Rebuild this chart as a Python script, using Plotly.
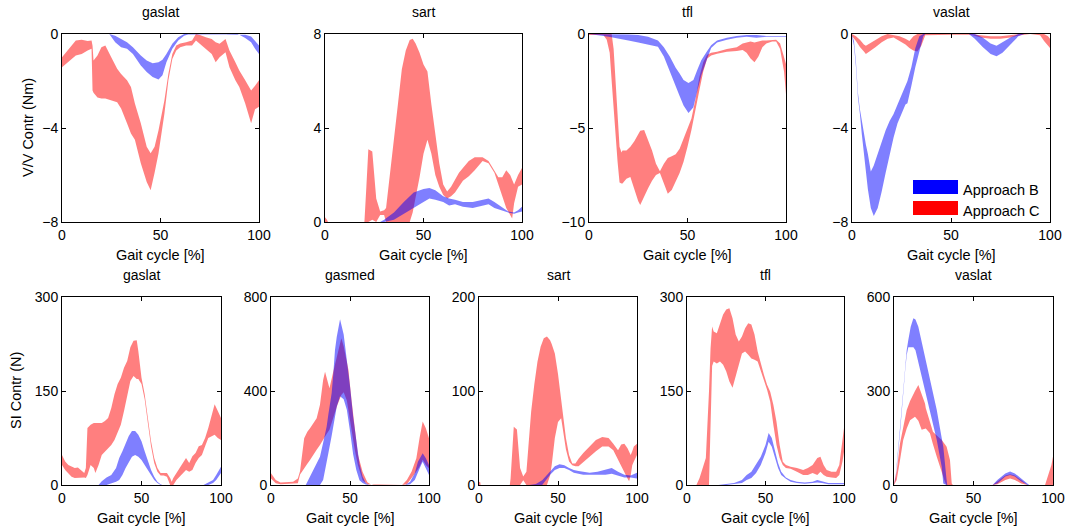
import plotly.graph_objects as go

# ---------------- data (gait cycle %, lower / upper band limits) ----------------
# Top row: V/V Contr (Nm)
VV_GASLAT_C_X = [0,3,7,10,13,15,15.5,16,18,20,22,25,28,30,33,35,37,40,43,45,47,49,50,52,54,56,58,60,63,66,68,70,73,76,78,80,83,85,88,90,93,95,96,98,100]
VV_GASLAT_C_HI = [-0.99,-0.7,-0.28,-0.25,-0.3,-0.28,-0.5,-1.13,-0.92,-0.56,-0.49,-0.99,-1.48,-1.7,-1.97,-2.26,-2.96,-3.8,-4.8,-5.07,-4.8,-4.1,-3.67,-2.82,-1.69,-0.85,-0.49,-0.4,-0.35,-0.28,0,-0.04,-0.14,-0.21,-0.35,-0.42,-0.21,-0.7,-1.2,-1.55,-1.97,-2.26,-2.4,-2.2,-1.97]
VV_GASLAT_C_LO = [-1.41,-1.2,-0.92,-0.85,-0.7,-0.63,-2.4,-2.5,-2.7,-2.75,-2.75,-2.82,-2.9,-3.17,-3.8,-4.23,-4.5,-5.5,-6.3,-6.65,-5.9,-5.07,-4.5,-3.38,-1.97,-1.06,-0.7,-0.56,-0.49,-0.49,-0.28,-0.42,-0.63,-0.85,-1.2,-0.99,-0.78,-1.41,-1.97,-2.26,-2.96,-3.5,-3.8,-3.2,-3.1]
VV_GASLAT_B_X = [24,27,30,33,36,40,43,46,49,51,53,56,59,62,64,89,90,93,96,98,100]
VV_GASLAT_B_HI = [0,-0.07,-0.21,-0.35,-0.56,-0.92,-1.13,-1.24,-1.2,-1.1,-0.85,-0.42,-0.14,0,0,0,0,-0.03,-0.11,-0.28,-0.49]
VV_GASLAT_B_LO = [0,-0.35,-0.56,-0.63,-0.85,-1.34,-1.62,-1.83,-1.94,-1.76,-1.2,-0.63,-0.28,-0.07,-0.02,0,-0.03,-0.17,-0.35,-0.63,-0.85]

VV_SART_C_X = [0,1,1.5,20,21,22,24,26,28,30,31,33,35,37,39,41,43,44.5,46,48,50,52,54,56,58,60,62,64,66,68,70,73,76,80,83,86,88,90,92,94,95,96,98,100]
VV_SART_C_HI = [0.2,0.1,0,0,1.5,3.1,3.0,1.0,0.45,0.5,0.6,2.0,3.5,5.0,6.5,7.3,7.75,7.8,7.6,7.2,6.7,6.4,5.0,3.7,2.5,1.6,1.3,1.5,1.8,2.1,2.3,2.6,2.75,2.75,2.6,2.2,1.9,1.9,2.2,2.0,1.8,1.6,2.0,2.3]
VV_SART_C_LO = [0,0,0,0,0,0,0.1,0,0.3,0.3,0,0,0,0,0,0,0,0.4,1.0,1.9,2.9,3.5,2.9,2.0,1.5,1.15,1.0,1.1,1.25,1.5,1.75,1.95,2.2,2.6,2.5,2.1,1.6,1.1,0.6,0.3,0.15,0.8,1.5,1.6]
VV_SART_B_X = [28,30,35,40,45,50,53,56,60,63,66,70,75,80,83,86,90,93,96,98,100]
VV_SART_B_HI = [0,0.1,0.4,0.85,1.25,1.4,1.45,1.35,1.1,1.0,0.95,0.85,0.85,0.95,1.0,0.85,0.6,0.45,0.4,0.5,0.65]
VV_SART_B_LO = [0,0,0.1,0.35,0.6,0.85,1.0,0.95,0.85,0.7,0.75,0.65,0.6,0.7,0.75,0.6,0.5,0.4,0.35,0.4,0.45]

VV_TFL_C_X = [0,5,7.3,9,10.5,11.5,12.5,13.5,14.5,15.5,16.5,17,19,21,23,25,26,28,30,32,34,36,38,40,42,44,46,48,50,52,54,56,58,60,62,65,70,75,78,80,82,84,86,88,90,93,95,97,99,100]
VV_TFL_C_HI = [0,0,0,0,0,0,-0.8,-2.5,-4.5,-6.0,-6.3,-6.2,-6.2,-6.0,-5.7,-5.3,-5.15,-5.1,-5.6,-6.2,-6.9,-7.3,-6.9,-6.6,-6.5,-6.4,-6.1,-5.6,-5.0,-4.5,-3.5,-2.3,-1.5,-1.1,-1.0,-0.95,-0.8,-0.7,-0.5,-0.45,-0.4,-0.45,-0.4,-0.35,-0.35,-0.3,-0.3,-0.5,-1.2,-1.6]
VV_TFL_C_LO = [-0.05,-0.05,-0.05,-0.3,-1.0,-2.5,-4.0,-5.5,-6.8,-7.9,-7.95,-7.95,-7.7,-7.6,-8.2,-8.9,-9.1,-8.7,-8.2,-7.8,-7.5,-7.4,-7.9,-8.5,-8.3,-7.9,-7.4,-6.8,-6.0,-5.1,-4.1,-3.0,-2.0,-1.3,-1.15,-1.05,-0.95,-0.9,-0.85,-1.0,-1.3,-1.5,-1.2,-0.7,-0.5,-0.4,-0.4,-0.8,-2.0,-3.2]
VV_TFL_B_X = [0,10,15,20,25,30,35,38,41,44,46,48,50.5,53,55,57,60,62,65,70,75,80,85,90,95,100]
VV_TFL_B_HI = [0,0,-0.02,-0.03,-0.05,-0.15,-0.35,-0.7,-1.2,-1.8,-2.1,-2.45,-2.6,-2.45,-1.9,-1.4,-0.9,-0.6,-0.35,-0.2,-0.1,-0.05,-0.05,-0.1,-0.1,-0.1]
VV_TFL_B_LO = [0,-0.15,-0.25,-0.35,-0.45,-0.55,-0.68,-1.2,-2.0,-2.8,-3.3,-3.8,-4.2,-3.9,-3.0,-2.2,-1.3,-0.75,-0.45,-0.3,-0.2,-0.15,-0.2,-0.15,-0.15,-0.15]

VV_VASLAT_C_X = [0,2,4,6,7,9,12,15,18,21,24,27,29,31,33,35,37,40,50,60,65,70,75,80,85,90,95,97,99,100]
VV_VASLAT_C_HI = [0,-0.1,-0.25,-0.45,-0.5,-0.4,-0.25,-0.1,0,-0.05,-0.1,-0.2,-0.3,-0.1,0,0,0,0,0,0,-0.05,-0.1,-0.1,-0.05,0,0,0,0,-0.1,-0.2]
VV_VASLAT_C_LO = [-0.1,-0.3,-0.55,-0.75,-0.85,-0.75,-0.55,-0.35,-0.2,-0.15,-0.3,-0.45,-0.6,-0.7,-0.75,-0.5,-0.05,-0.03,-0.03,-0.03,-0.15,-0.2,-0.2,-0.15,-0.05,0,-0.05,-0.3,-0.5,-0.6]
VV_VASLAT_B_X = [0,1,2,3,4,5,6,7,8,9.5,11,13,15,17,19,21,23,25,27,28,30,32,34,36,37,59,62,66,70,73,76,80,84,87,100]
VV_VASLAT_B_HI = [-0.05,-0.3,-1.2,-2.5,-3.2,-3.75,-4.2,-4.7,-5.1,-5.85,-5.6,-5.1,-4.6,-4.1,-3.7,-3.4,-3.0,-2.6,-2.2,-2.0,-1.4,-0.6,-0.1,0,0,0,0,-0.15,-0.4,-0.5,-0.35,-0.15,0,0,0]
VV_VASLAT_B_LO = [-0.1,-0.5,-1.4,-2.7,-3.4,-4.3,-5.1,-5.9,-6.6,-7.4,-7.75,-7.4,-6.7,-5.9,-5.1,-4.4,-3.8,-3.4,-3.0,-2.95,-2.2,-1.4,-0.7,-0.1,0,0,-0.2,-0.55,-0.85,-0.95,-0.8,-0.45,-0.1,0,0]

# Bottom row: SI Contr (N)
SI_GASLAT_C_X = [0,2,4,6,8,10,12,14,15,15.5,16,18,20,21,23,25,27,29,31,33,35,37,39,41,43,45,47,48,50,52,54,56,58,60,62,64,66,68,69,70,72,74,76,78,80,82,84,86,88,90,92,94,96,98,100]
SI_GASLAT_C_HI = [48,37.5,32,29,27,28,24,19,27,60,91,96,99,99,99,99,102,107,123,145,161,171,187,198,220,230,231,214,171,145,107,70,43,27,19,19,19,11,5,11,19,27,35,43,35,46,51,62,64,75,91,110,129,118,107]
SI_GASLAT_C_LO = [32,24,19,13,11,11,12,12,11,13,16,32,27,19,32,48,54,59,64,72,83,96,118,139,166,174,169,169,161,137,99,62,35,21,15,15,13,0,0,0,8,13,19,24,21,24,35,43,48,62,75,78,80,75,72]
SI_GASLAT_B_X = [23,25,28,31,34,36,38,40,42,44,46,48,50,52,54,56,58,60,62,63,89,92,95,97,100]
SI_GASLAT_B_HI = [0,6,12,16,27,43,54,67,78,86,86,80,70,54,37,24,13,5,1,0,0,4,8,16,29]
SI_GASLAT_B_LO = [0,0,0,3,5,8,16,27,37,45,48,45,40,32,24,16,8,3,0,0,0,0,3,8,19]

SI_GASMED_C_X = [0,3,6,10,14,17,18.4,21,23,24.7,27,28.9,31,33,34.2,35,37,39,42,44.5,46,48,49,51,53,55,58,61,63,65,83,86,89,92,94,96,98,100]
SI_GASMED_C_HI = [50,21,11,11,14,28,60,199,227,241,263,284,341,447,482,462,412,470,560,625,590,530,490,360,230,130,55,12,3,0,0,21,57,114,199,270,241,199]
SI_GASMED_C_LO = [28,7,3,3,6,7,45,70,90,106,128,150,170,190,205,215,235,275,340,383,395,360,320,235,150,85,20,3,0,0,0,3,28,57,78,107,85,71]
SI_GASMED_B_X = [22,22.6,24,26.8,31,33,35.2,36.3,38.4,39.4,40.5,41.6,43.7,46,48,50,52,54,56,58,60,62,85,88,91,93,95,96,98,100]
SI_GASMED_B_HI = [0,8,30,64,120,180,248,300,391,470,574,630,705,640,540,420,290,180,90,35,8,0,0,14,50,99,128,135,114,85]
SI_GASMED_B_LO = [0,0,0,0,0,21,100,135,210,248,285,333,378,365,320,230,130,64,20,8,2,0,0,3,21,50,85,99,71,43]

SI_SART_C_X = [0,0.8,1,19.5,20,21,22,24,26,28,30,31,33,35,37,39,41,43,45,46,48,50,52,53,55,57,59,61,63,66,70,74,78,82,85,88,90,92,94,95,96,97,98,100]
SI_SART_C_HI = [3.5,3,0,0,7,35,62,59,18,9,14,35,78,107,131,147,156,158,154,150,140,118,89,75,50,32,23,23,28,34,41,48,51,50,44,37,43,44,39,35,32,36,41,44]
SI_SART_C_LO = [0,0,0,0,0,0,0,0,0,5,0,0,0,0,0,0,0,0,10,21,50,67,71,60,38,25,21,20,20,25,30,36,41,41,37,28,21,14,7,4,10,21,25,32]
SI_SART_B_X = [32,36,40,42,45,48,51,54,57,60,63,66,70,75,80,84,88,92,96,100]
SI_SART_B_HI = [0,1,5,9,14,20,22,21,18,16,15,14,13,14,16,18,14,11,10,13]
SI_SART_B_LO = [0,0,0,4,11,16,18,18,16,13,12,11,11,11,11,12,10,8,8,7]

SI_TFL_C_X = [0,6,8,10,12,14,14.5,15,16,17,19,21,23,25,27,29,31,33,35,37,39,41,43,45,47,49,51,53,55,57,59,61,63,66,70,74,77,80,83,85,87,89,92,95,97,99,100]
SI_TFL_C_HI = [0,0,11,27,43,149,185,218,253,245,242,258,272,280,282,266,240,229,237,250,258,256,240,213,192,176,160,149,128,101,64,37,32,29,27,24,27,32,43,45,32,24,21,21,32,69,91]
SI_TFL_C_LO = [0,0,0,0,0,0,20,85,190,197,194,197,192,181,165,155,176,192,210,213,208,202,200,197,181,168,152,133,96,64,43,32,27,26,21,16,16,19,16,21,16,13,12,11,16,37,53]
SI_TFL_B_X = [20,25,30,35,38,41,44,47,50,52,54,56,58,60,63,66,70,75,80,83,86,90,95,100]
SI_TFL_B_HI = [0,1,3,8,16,21,32,45,64,83,75,53,35,21,12,8,5,4,5,8,6,3,3,3]
SI_TFL_B_LO = [0,0,1,3,8,11,19,32,51,69,61,43,27,16,10,5,3,2,3,4,3,1,1,1]

SI_VASLAT_C_X = [0,1.7,3.8,5.8,8,10.1,12.2,13.2,15.3,17.4,18.4,19.5,20,22.6,24.5,26.9,28,30,32,33,33.1,35.2,36.3,37,62,65,70,73,76,80,84,95,97,99,100]
SI_VASLAT_C_HI = [5,45,133,185,239,268,293,300,319,290,282,260,245,197,170,158,154,144,130,125,122,80,5,0,0,11,30,34,30,16,0,0,32,64,91]
SI_VASLAT_C_LO = [0,16,80,144,180,207,215,218,205,176,178,180,180,165,130,90,75,40,10,0,0,0,0,0,0,2,16,21,16,5,0,0,0,0,0]
SI_VASLAT_B_X = [0,1,4,7,8,9,10.5,12.2,13.5,15.3,18.4,22.6,26.9,30,31,33,33.5,62,65,70,73,76,80,84,85,100]
SI_VASLAT_B_HI = [0,25,195,380,431,463,505,532,528,505,431,335,239,150,122,20,0,0,16,37,43,37,21,5,0,0]
SI_VASLAT_B_LO = [0,18,180,365,415,440,441,440,430,395,325,239,144,58,5,0,0,0,5,27,32,27,11,0,0,0]

TITLES_TOP = ["gaslat", "sart", "tfl", "vaslat"]
TITLES_BOT = ["gaslat", "gasmed", "sart", "tfl", "vaslat"]
YTICKS_TOP = [[-8, -4, 0], [0, 4, 8], [-10, -5, 0], [-8, -4, 0]]
YTICKS_BOT = [[0, 150, 300], [0, 400, 800], [0, 100, 200], [0, 150, 300], [0, 300, 600]]
XTICKS = [0, 50, 100]
LEGEND_LABELS = ["Approach B", "Approach C"]

# ---------------- layout geometry (screen pixels) ----------------
W, H = 1065, 528
TOP_X = [(62, 259), (325, 522), (589, 786), (852, 1050)]
BOT_X = [(62, 221), (271, 429), (479, 637), (687, 844), (894, 1053)]
TOP_Y = (34, 222)
BOT_Y = (297, 485)

RED = "rgba(255,0,0,0.5)"
BLUE = "rgba(0,0,255,0.5)"
FONT = "Liberation Sans, Arial, sans-serif"


def fx(p):
    return p / W


def fy(p):
    return 1 - p / H


panels = [
    ("V", 0, VV_GASLAT_C_X, VV_GASLAT_C_LO, VV_GASLAT_C_HI, VV_GASLAT_B_X, VV_GASLAT_B_LO, VV_GASLAT_B_HI),
    ("V", 1, VV_SART_C_X, VV_SART_C_LO, VV_SART_C_HI, VV_SART_B_X, VV_SART_B_LO, VV_SART_B_HI),
    ("V", 2, VV_TFL_C_X, VV_TFL_C_LO, VV_TFL_C_HI, VV_TFL_B_X, VV_TFL_B_LO, VV_TFL_B_HI),
    ("V", 3, VV_VASLAT_C_X, VV_VASLAT_C_LO, VV_VASLAT_C_HI, VV_VASLAT_B_X, VV_VASLAT_B_LO, VV_VASLAT_B_HI),
    ("S", 0, SI_GASLAT_C_X, SI_GASLAT_C_LO, SI_GASLAT_C_HI, SI_GASLAT_B_X, SI_GASLAT_B_LO, SI_GASLAT_B_HI),
    ("S", 1, SI_GASMED_C_X, SI_GASMED_C_LO, SI_GASMED_C_HI, SI_GASMED_B_X, SI_GASMED_B_LO, SI_GASMED_B_HI),
    ("S", 2, SI_SART_C_X, SI_SART_C_LO, SI_SART_C_HI, SI_SART_B_X, SI_SART_B_LO, SI_SART_B_HI),
    ("S", 3, SI_TFL_C_X, SI_TFL_C_LO, SI_TFL_C_HI, SI_TFL_B_X, SI_TFL_B_LO, SI_TFL_B_HI),
    ("S", 4, SI_VASLAT_C_X, SI_VASLAT_C_LO, SI_VASLAT_C_HI, SI_VASLAT_B_X, SI_VASLAT_B_LO, SI_VASLAT_B_HI),
]

fig = go.Figure()
layout = dict(width=W, height=H, autosize=False, margin=dict(l=0, r=0, t=0, b=0, pad=0),
              paper_bgcolor="white", plot_bgcolor="white", showlegend=False,
              font=dict(family=FONT, size=14, color="black"))
annotations = []
shapes = []


def band(xs, lo, hi):
    return list(xs) + list(xs)[::-1], list(hi) + list(lo)[::-1]


for i, (row, col, cx, clo, chi, bx, blo, bhi) in enumerate(panels):
    n = i + 1
    xa = "x" if n == 1 else f"x{n}"
    ya = "y" if n == 1 else f"y{n}"
    if row == "V":
        px = TOP_X[col]; py = TOP_Y
        yt = YTICKS_TOP[col]; title = TITLES_TOP[col]
    else:
        px = BOT_X[col]; py = BOT_Y
        yt = YTICKS_BOT[col]; title = TITLES_BOT[col]
    for xs, lo, hi, colr in ((cx, clo, chi, RED), (bx, blo, bhi, BLUE)):
        X, Y = band(xs, lo, hi)
        fig.add_trace(go.Scatter(x=X, y=Y, xaxis=xa, yaxis=ya, mode="lines",
                                 fill="toself", fillcolor=colr,
                                 line=dict(width=0, color=colr), hoverinfo="skip"))
    axcommon = dict(showline=True, linecolor="black", linewidth=1, mirror="ticks",
                    ticks="inside", ticklen=4, tickcolor="black", showgrid=False,
                    zeroline=False, automargin=False,
                    tickfont=dict(family=FONT, size=14, color="black"))
    layout["xaxis" if n == 1 else f"xaxis{n}"] = dict(
        domain=[fx(px[0]), fx(px[1])], range=[0, 100], tickvals=XTICKS,
        anchor=ya, **axcommon)
    layout["yaxis" if n == 1 else f"yaxis{n}"] = dict(
        domain=[fy(py[1]), fy(py[0])], range=[yt[0], yt[-1]], tickvals=yt,
        anchor=xa, **axcommon)
    cxp = fx((px[0] + px[1]) / 2)
    annotations.append(dict(text=title, x=cxp, y=fy(py[0] - 22), xref="paper", yref="paper",
                            showarrow=False, xanchor="center", yanchor="middle",
                            font=dict(family=FONT, size=14, color="black")))
    annotations.append(dict(text="Gait cycle [%]", x=cxp, y=fy(py[1] + 33), xref="paper",
                            yref="paper", showarrow=False, xanchor="center", yanchor="middle",
                            font=dict(family=FONT, size=14.5, color="black")))

annotations.append(dict(text="V/V Contr (Nm)", x=fx(28), y=fy(128), xref="paper", yref="paper",
                        showarrow=False, textangle=-90, xanchor="center", yanchor="middle",
                        font=dict(family=FONT, size=14.5, color="black")))
annotations.append(dict(text="SI Contr (N)", x=fx(16), y=fy(391), xref="paper", yref="paper",
                        showarrow=False, textangle=-90, xanchor="center", yanchor="middle",
                        font=dict(family=FONT, size=14.5, color="black")))

# legend inside the top vaslat panel
for k, (lab, colr) in enumerate(zip(LEGEND_LABELS, ["blue", "red"])):
    y0 = 180 + k * 21
    shapes.append(dict(type="rect", xref="paper", yref="paper", x0=fx(913), x1=fx(958),
                       y0=fy(y0 + 14), y1=fy(y0), fillcolor=colr, line=dict(width=0)))
    annotations.append(dict(text=lab, x=fx(961), y=fy(y0 + 10), xref="paper", yref="paper",
                            showarrow=False, xanchor="left", yanchor="middle",
                            font=dict(family=FONT, size=14.5, color="black")))

layout["annotations"] = annotations
layout["shapes"] = shapes
fig.update_layout(**layout)
fig.write_html("out.html")
